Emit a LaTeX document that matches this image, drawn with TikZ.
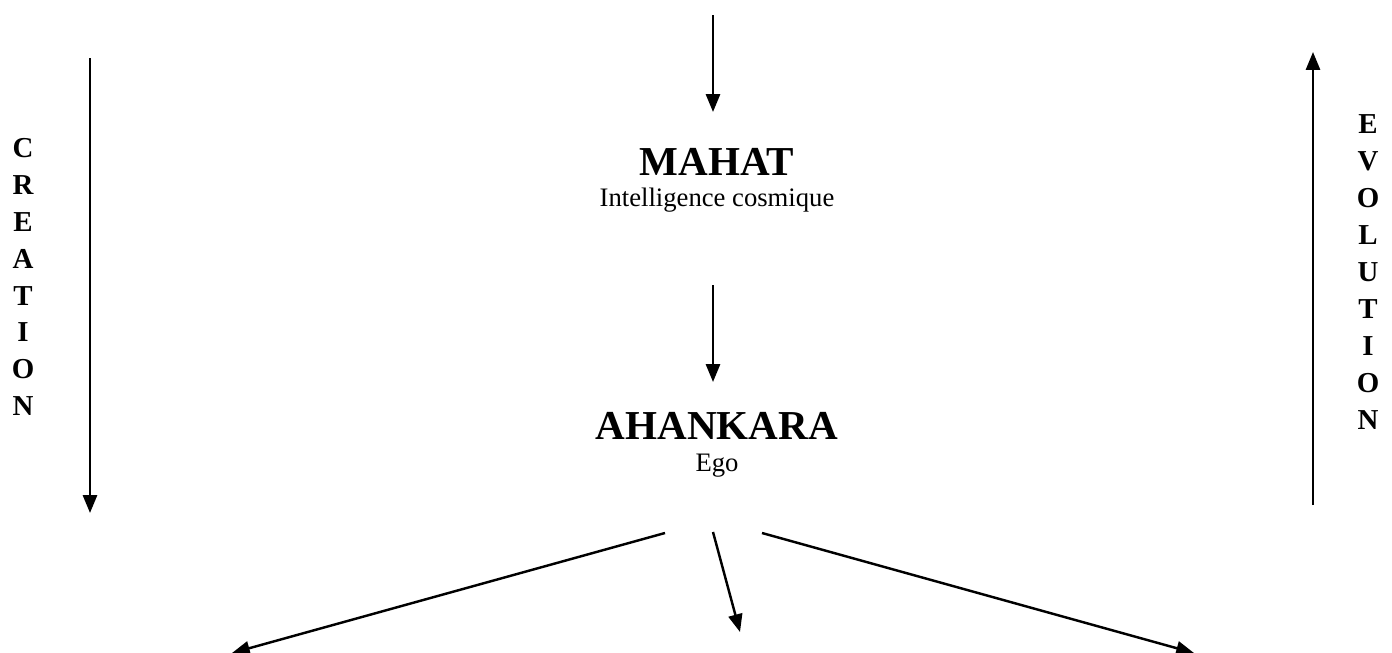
\documentclass[tikz,border=0pt]{standalone}
\usepackage{fontspec}
\setmainfont{Liberation Serif}
\usetikzlibrary{arrows.meta,positioning}

\begin{document}
\begin{tikzpicture}[
    x=0.45pt, y=-0.45pt,
    arr/.style={line width=1.1pt, -{Triangle[length=8pt,width=6.3pt]}},
    title/.style={font=\fontsize{18.5}{22}\selectfont\bfseries, inner sep=0pt},
    sub/.style={font=\fontsize{12}{14}\selectfont, inner sep=0pt},
    letters/.style={font=\fontsize{13}{16.6}\selectfont\bfseries, align=center, inner sep=0pt}
]
\useasboundingbox (0,0) rectangle (1392,653);

% centre column
\node[title] (mahat) at (717,162) {MAHAT};
\node[sub, below=5pt of mahat] (mahatsub) {Intelligence cosmique};
\node[title] (ahankara) at (717,426) {AHANKARA};
\node[sub, below=6pt of ahankara] (ego) {Ego};

% side labels
\node[letters] (creation) at (23,277) {C\\R\\E\\A\\T\\I\\O\\N};
\node[letters] (evolution) at (1368,272) {E\\V\\O\\L\\U\\T\\I\\O\\N};

% arrow ends
\coordinate (top) at (713,15);
\coordinate (topend) at (713,112);
\coordinate (mid) at (713,285);
\coordinate (midend) at (713,382);
\coordinate (crA) at (90,58);
\coordinate (crB) at (90,513);
\coordinate (evA) at (1313,505);
\coordinate (evB) at (1313,52);
\coordinate (egoL) at (665,533);
\coordinate (egoM) at (713,532);
\coordinate (egoR) at (762,533);
\coordinate (outL) at (232,653);
\coordinate (outM) at (740,632);
\coordinate (outR) at (1194,653);

\draw[arr] (top) -- (topend);
\draw[arr] (mid) -- (midend);
\draw[arr] (crA) -- (crB);
\draw[arr] (evA) -- (evB);
\draw[arr] (egoL) -- (outL);
\draw[arr] (egoM) -- (outM);
\draw[arr] (egoR) -- (outR);
\end{tikzpicture}
\end{document}
